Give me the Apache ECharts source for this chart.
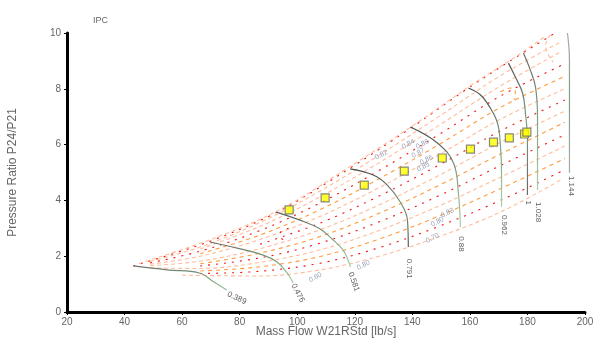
<!DOCTYPE html>
<html>
<head>
<meta charset="utf-8">
<script src="https://cdn.jsdelivr.net/npm/echarts@6/dist/echarts.min.js"></script>
<style>
  html, body { margin: 0; padding: 0; background: #fff; }
  #chart { width: 600px; height: 339px; }
</style>
</head>
<body>
<div id="chart"></div>
<script>
// IPC compressor map: corrected speed lines, efficiency contours, operating points.

// Axis ranges and ticks
const xTicks = [20, 40, 60, 80, 100, 120, 140, 160, 180, 200];
const yTicks = [0, 2, 4, 6, 8, 10];

// Corrected speed lines [mass flow, pressure ratio]
const speedNames = ['0.389', '0.476', '0.581', '0.791', '0.88', '0.962', '1', '1.028', '1.144'];
const speed0389 = [[43.1, 1.65], [54.7, 1.51], [66.3, 1.39], [70.8, 1.09], [75.5, 0.79]];
const speed0476 = [[69.7, 2.51], [79.1, 2.29], [88.2, 2.04], [93.0, 1.79], [96.5, 1.40], [98.6, 1.04]];
const speed0581 = [[92.7, 3.58], [100.7, 3.30], [107.7, 2.99], [112.2, 2.61], [115.7, 2.25], [117.4, 1.93], [118.5, 1.61]];
const speed0791 = [[118.4, 5.13], [126.4, 4.91], [131.3, 4.55], [135.8, 3.94], [138.3, 3.30], [138.6, 2.33]];
const speed0880 = [[139.3, 6.63], [148.7, 6.06], [154.3, 5.34], [156.0, 4.27], [156.7, 3.05]];
const speed0962 = [[159.5, 8.03], [163.7, 7.78], [167.1, 7.31], [169.6, 6.77], [170.6, 5.99], [171.0, 4.91], [171.0, 3.76]];
const speed1000 = [[173.4, 8.92], [175.8, 8.42], [178.3, 7.85], [179.3, 7.13], [180.0, 6.16], [180.0, 4.19]];
const speed1028 = [[178.6, 9.28], [181.0, 8.67], [182.8, 8.06], [183.5, 6.99], [183.5, 4.37]];
const speed1144 = [[193.9, 10.0], [194.6, 9.03], [194.6, 4.98]];
const speedLines = [speed0389, speed0476, speed0581, speed0791, speed0880, speed0962, speed1000, speed1028, speed1144];

// Where each speed value is written
const speedLabelPos = [[79.0, 0.50], [100.2, 0.68], [119.6, 1.08], [139.0, 1.55], [157.0, 2.44], [171.8, 3.12], [180.2, 3.92], [183.9, 3.58], [195.1, 4.52]];

// Efficiency contours (isentropic efficiency), traced as open dashed paths
const effSurge = [[43.0, 1.65], [69.0, 2.51], [93.0, 3.58], [118.4, 5.16], [140.0, 6.63], [159.5, 8.03], [173.4, 8.96], [189.0, 9.96]];
const effEdge = [[45.0, 1.74], [70.5, 2.62], [94.5, 3.70], [119.5, 5.29], [141.5, 6.77], [161.0, 8.17], [175.5, 9.12], [186.5, 9.90]];
const eff01 = [[48.9, 1.81], [66.3, 2.33], [87.1, 3.21], [108.0, 4.34], [128.9, 5.65], [149.7, 7.04], [170.6, 8.47], [191.5, 9.68]];
const eff02 = [[66.3, 2.26], [87.1, 3.07], [108.0, 4.13], [128.9, 5.38], [149.7, 6.72], [170.6, 8.10], [191.5, 9.32]];
const eff03 = [[48.9, 1.76], [66.3, 2.18], [87.1, 2.92], [108.0, 3.91], [128.9, 5.10], [149.7, 6.39], [170.6, 7.74], [193.0, 8.90]];
const eff04 = [[66.3, 2.09], [87.1, 2.76], [108.0, 3.67], [128.9, 4.80], [149.7, 6.03], [170.6, 7.33], [193.0, 8.45]];
const eff05 = [[48.9, 1.71], [66.3, 2.00], [87.1, 2.60], [108.0, 3.43], [128.9, 4.48], [149.7, 5.66], [170.6, 6.91], [193.0, 8.00]];
const eff06 = [[87.1, 2.43], [108.0, 3.19], [128.9, 4.18], [149.7, 5.29], [170.6, 6.49], [193.0, 7.60]];
const eff07 = [[48.9, 1.66], [66.3, 1.82], [87.1, 2.27], [108.0, 2.95], [128.9, 3.86], [149.7, 4.92], [170.6, 6.08], [193.0, 7.20]];
const eff08 = [[66.3, 1.73], [87.1, 2.11], [108.0, 2.71], [128.9, 3.56], [149.7, 4.56], [170.6, 5.66], [193.0, 6.80]];
const eff09 = [[66.3, 1.65], [87.1, 1.94], [108.0, 2.47], [128.9, 3.25], [149.7, 4.19], [170.6, 5.25], [193.0, 6.35]];
const eff10 = [[48.9, 1.58], [66.3, 1.56], [87.1, 1.78], [108.0, 2.23], [128.9, 2.94], [149.7, 3.82], [170.6, 4.83], [193.0, 5.95]];
const eff11 = [[66.3, 1.47], [87.1, 1.62], [108.0, 1.99], [128.9, 2.63], [149.7, 3.46], [170.6, 4.42], [193.0, 5.50]];
const eff12 = [[66.3, 1.38], [87.1, 1.46], [108.0, 1.75], [128.9, 2.32], [149.7, 3.09], [170.6, 4.00], [193.0, 5.10]];
const eff13 = [[60.0, 1.32], [87.1, 1.29], [108.0, 1.51], [128.9, 2.01], [149.7, 2.72], [170.6, 3.58], [191.5, 4.73]];
const effHook1 = [[170.6, 7.89], [174.1, 8.03], [175.8, 7.89], [175.5, 7.60]];
const effHook2 = [[188.0, 9.93], [186.3, 9.57], [187.3, 9.21], [189.0, 8.96]];
const effHook3 = [[97.0, 3.00], [94.5, 2.90], [94.0, 2.70], [96.0, 2.55]];
const effContours = [effSurge, effEdge, eff01, eff02, eff03, eff04, eff05, eff06, eff07, eff08, eff09, eff10, eff11, eff12, eff13, effHook1, effHook2, effHook3];
const effTone = ['red', 'peach', 'peach', 'peach', 'red', 'orange', 'peach', 'red', 'peach', 'orange', 'red', 'peach', 'orange', 'red', 'peach', 'orange', 'peach', 'red'];

// Efficiency level labels
const effLabelText = ['0.82', '0.84', '0.86', '0.87', '0.86', '0.85', '0.83', '0.80', '0.70', '0.80', '0.60'];
const effLabelPos = [[129.2, 5.63], [138.6, 6.02], [143.5, 6.02], [142.0, 5.70], [144.9, 5.45], [143.8, 5.20], [152.2, 3.55], [148.7, 3.23], [147.0, 2.65], [123.0, 1.68], [106.3, 1.24]];

// Operating points
const opFlow = [97.2, 109.7, 123.3, 137.2, 150.4, 160.2, 168.2, 173.7, 179.0, 179.8];
const opPR = [3.66, 4.09, 4.55, 5.05, 5.52, 5.84, 6.09, 6.24, 6.38, 6.45];

// ---- styling ----
const toneColor = { red: '#ee1111', orange: '#ff9a3c', peach: '#ffbc9c' };
const toneDash = { red: [2, 6], orange: [4, 4], peach: [4, 3] };
const speedLabelRotate = [-25, -62, -70, -90, -90, -90, -90, -90, -90];
const speedTopColor = ['#666', '#666', '#555', '#444', '#444', '#444', '#555', '#666', '#aaa'];
const speedBottomColor = ['#9cc89c', '#a8d5a8', '#a8d5a8', '#555', '#a8d5a8', '#a8d5a8', '#666', '#a8cfa8', '#aaa'];
const fontFamily = '"Liberation Sans", Arial, sans-serif';

const chart = echarts.init(document.getElementById('chart'), null, { renderer: 'canvas' });

const series = [];

effContours.forEach((pts, i) => {
  series.push({
    type: 'line',
    data: pts,
    smooth: 0.35,
    symbol: 'none',
    silent: true,
    z: 2,
    lineStyle: { color: toneColor[effTone[i]], width: 1.1, type: toneDash[effTone[i]] }
  });
});

speedLines.forEach((pts, i) => {
  series.push({
    type: 'line',
    data: pts,
    smooth: 0.4,
    symbol: 'none',
    silent: true,
    z: 3,
    lineStyle: {
      width: 1.2,
      color: new echarts.graphic.LinearGradient(0, 0, 0, 1, [
        { offset: 0, color: speedTopColor[i] },
        { offset: 0.45, color: '#7f9f7f' },
        { offset: 1, color: speedBottomColor[i] }
      ])
    }
  });
});

series.push({
  type: 'scatter',
  silent: true,
  z: 4,
  symbolSize: 0,
  data: speedNames.map((name, i) => ({
    value: speedLabelPos[i],
    label: { show: true, formatter: name, rotate: speedLabelRotate[i], position: 'inside',
             color: '#333', fontSize: 8, fontFamily: fontFamily }
  }))
});

series.push({
  type: 'scatter',
  silent: true,
  z: 4,
  symbolSize: 0,
  data: effLabelText.map((t, i) => ({
    value: effLabelPos[i],
    label: { show: true, formatter: t, rotate: 28, position: 'inside',
             color: '#7d8ca8', fontSize: 7, fontFamily: fontFamily }
  }))
});

series.push({
  type: 'scatter',
  z: 5,
  symbol: 'rect',
  symbolSize: 8,
  data: opFlow.map((x, i) => [x, opPR[i]]),
  itemStyle: { color: '#ffff00', borderColor: '#6b6b6b', borderWidth: 1.2 }
});

chart.setOption({
  animation: false,
  backgroundColor: '#fff',
  textStyle: { fontFamily: fontFamily },
  title: {
    text: 'IPC', left: 88, top: 11,
    textStyle: { fontSize: 9, fontWeight: 'normal', color: '#666', fontFamily: fontFamily }
  },
  grid: { left: 67, right: 15, top: 33, bottom: 27, containLabel: false, outerBoundsMode: 'none' },
  xAxis: {
    type: 'value',
    min: xTicks[0], max: xTicks[xTicks.length - 1], interval: xTicks[1] - xTicks[0],
    name: 'Mass Flow W21RStd [lb/s]', nameLocation: 'middle', nameGap: 14, nameMoveOverlap: false,
    nameTextStyle: { color: '#666', fontSize: 12 },
    axisLine: { show: true, onZero: false, lineStyle: { color: '#000', width: 3 } },
    axisTick: { show: true, length: 3, lineStyle: { color: '#000' } },
    axisLabel: { color: '#666', fontSize: 10, margin: 5 },
    splitLine: { show: false }
  },
  yAxis: {
    type: 'value',
    min: yTicks[0], max: yTicks[yTicks.length - 1], interval: yTicks[1] - yTicks[0],
    name: 'Pressure Ratio P24/P21', nameLocation: 'middle', nameGap: 48, nameMoveOverlap: false,
    nameTextStyle: { color: '#666', fontSize: 12 },
    axisLine: { show: true, onZero: false, lineStyle: { color: '#000', width: 3 } },
    axisTick: { show: true, length: 3, lineStyle: { color: '#000' } },
    axisLabel: { color: '#666', fontSize: 10, margin: 6 },
    splitLine: { show: false }
  },
  series: series
});
</script>
</body>
</html>
